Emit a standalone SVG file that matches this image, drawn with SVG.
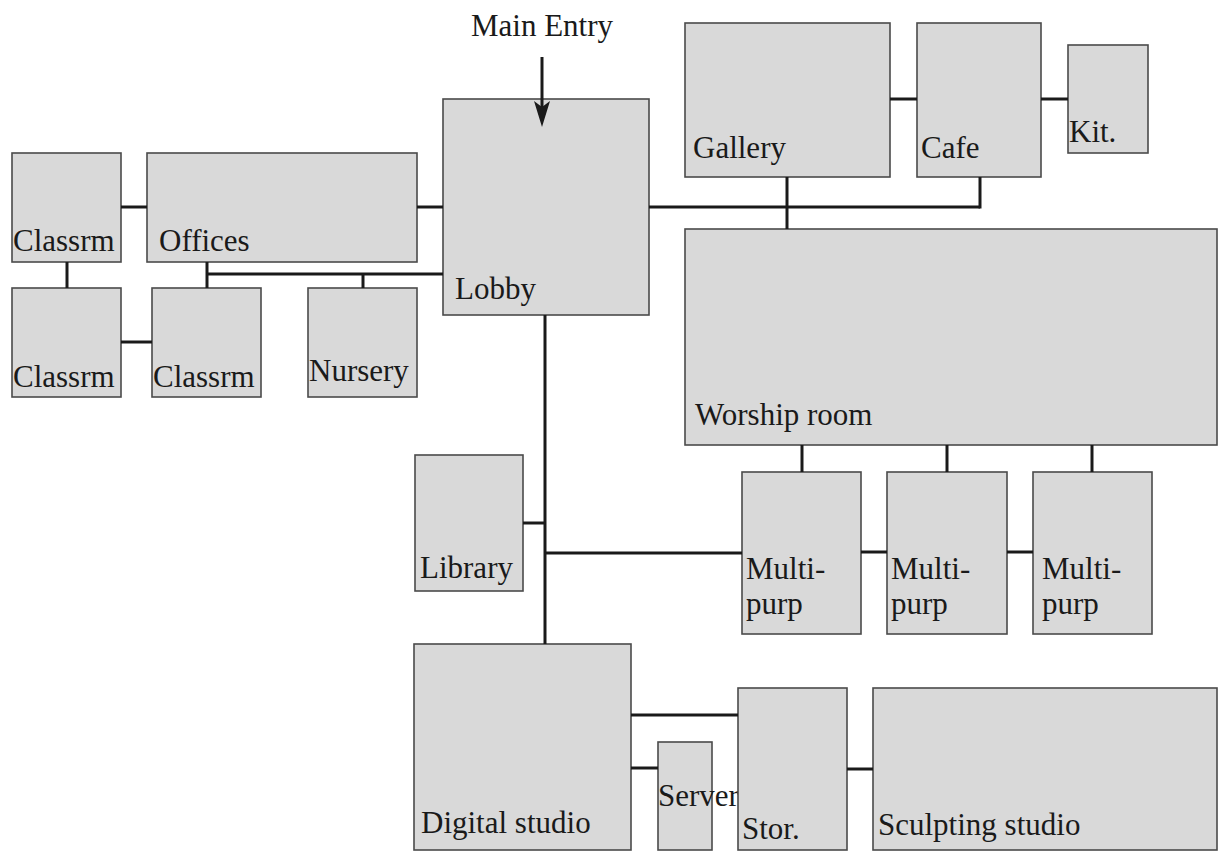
<svg xmlns="http://www.w3.org/2000/svg" width="1218" height="852" viewBox="0 0 1218 852">
<style>
.room{fill:#d9d9d9;stroke:#4a4a4a;stroke-width:1.6}
.lbl{font-family:"Liberation Serif","Tinos","DejaVu Serif","Noto Serif","Times New Roman",Times,serif;font-size:31px;fill:#1a1a1a}
.c{stroke:#1a1a1a;stroke-width:3;fill:none}
.head{fill:#1a1a1a;stroke:none}
</style>
<rect width="1218" height="852" fill="#ffffff"/>
<g id="main-entry"><text class="lbl" x="542" y="36" text-anchor="middle">Main Entry</text></g>
<g id="classrm1"><rect class="room" x="12" y="153" width="109" height="109"/><text class="lbl" x="13" y="251">Classrm</text></g>
<g id="offices"><rect class="room" x="147" y="153" width="270" height="109"/><text class="lbl" x="159" y="251">Offices</text></g>
<g id="classrm2"><rect class="room" x="12" y="288" width="109" height="109"/><text class="lbl" x="13" y="387">Classrm</text></g>
<g id="classrm3"><rect class="room" x="152" y="288" width="109" height="109"/><text class="lbl" x="153" y="387">Classrm</text></g>
<g id="nursery"><rect class="room" x="308" y="288" width="109" height="109"/><text class="lbl" x="309" y="381">Nursery</text></g>
<g id="lobby"><rect class="room" x="443" y="99" width="206" height="216"/><text class="lbl" x="455" y="299">Lobby</text></g>
<g id="gallery"><rect class="room" x="685" y="23" width="205" height="154"/><text class="lbl" x="693" y="158">Gallery</text></g>
<g id="cafe"><rect class="room" x="917" y="23" width="124" height="154"/><text class="lbl" x="921" y="158">Cafe</text></g>
<g id="kit"><rect class="room" x="1068" y="45" width="80" height="108"/><text class="lbl" x="1069" y="142">Kit.</text></g>
<g id="worship"><rect class="room" x="685" y="229" width="532" height="216"/><text class="lbl" x="695" y="425">Worship room</text></g>
<g id="library"><rect class="room" x="415" y="455" width="108" height="136"/><text class="lbl" x="420" y="578">Library</text></g>
<g id="multipurp1"><rect class="room" x="742" y="472" width="119" height="162"/><text class="lbl" x="746" y="579">Multi-</text><text class="lbl" x="746" y="614">purp</text></g>
<g id="multipurp2"><rect class="room" x="887" y="472" width="120" height="162"/><text class="lbl" x="891" y="579">Multi-</text><text class="lbl" x="891" y="614">purp</text></g>
<g id="multipurp3"><rect class="room" x="1033" y="472" width="119" height="162"/><text class="lbl" x="1042" y="579">Multi-</text><text class="lbl" x="1042" y="614">purp</text></g>
<g id="digital"><rect class="room" x="414" y="644" width="217" height="206"/><text class="lbl" x="421" y="833">Digital studio</text></g>
<g id="server"><rect class="room" x="658" y="742" width="54" height="108"/><text class="lbl" x="658" y="806">Server</text></g>
<g id="stor"><rect class="room" x="738" y="688" width="109" height="162"/><text class="lbl" x="742" y="839">Stor.</text></g>
<g id="sculpting"><rect class="room" x="873" y="688" width="344" height="162"/><text class="lbl" x="878" y="835">Sculpting studio</text></g>
<g id="connectors">
<line class="c" x1="121" y1="207" x2="147" y2="207"/>
<line class="c" x1="417" y1="207" x2="443" y2="207"/>
<line class="c" x1="67" y1="262" x2="67" y2="288"/>
<line class="c" x1="121" y1="342" x2="152" y2="342"/>
<line class="c" x1="207" y1="262" x2="207" y2="288"/>
<line class="c" x1="206" y1="274" x2="443" y2="274"/>
<line class="c" x1="363" y1="274" x2="363" y2="288"/>
<line class="c" x1="649" y1="207" x2="980" y2="207"/>
<line class="c" x1="980" y1="177" x2="980" y2="208.5"/>
<line class="c" x1="787" y1="177" x2="787" y2="229"/>
<line class="c" x1="890" y1="99" x2="917" y2="99"/>
<line class="c" x1="1041" y1="99" x2="1068" y2="99"/>
<line class="c" x1="545" y1="315" x2="545" y2="644"/>
<line class="c" x1="523" y1="523" x2="545" y2="523"/>
<line class="c" x1="545" y1="553" x2="742" y2="553"/>
<line class="c" x1="802" y1="445" x2="802" y2="472"/>
<line class="c" x1="947" y1="445" x2="947" y2="472"/>
<line class="c" x1="1092" y1="445" x2="1092" y2="472"/>
<line class="c" x1="861" y1="552" x2="887" y2="552"/>
<line class="c" x1="1007" y1="552" x2="1033" y2="552"/>
<line class="c" x1="631" y1="715" x2="738" y2="715"/>
<line class="c" x1="631" y1="768" x2="658" y2="768"/>
<line class="c" x1="847" y1="769" x2="873" y2="769"/>
<line class="c" x1="542" y1="57" x2="542" y2="110"/>
<path class="head" d="M534,101 L542,107 L550,101 L542,127 Z"/>
</g>
</svg>
